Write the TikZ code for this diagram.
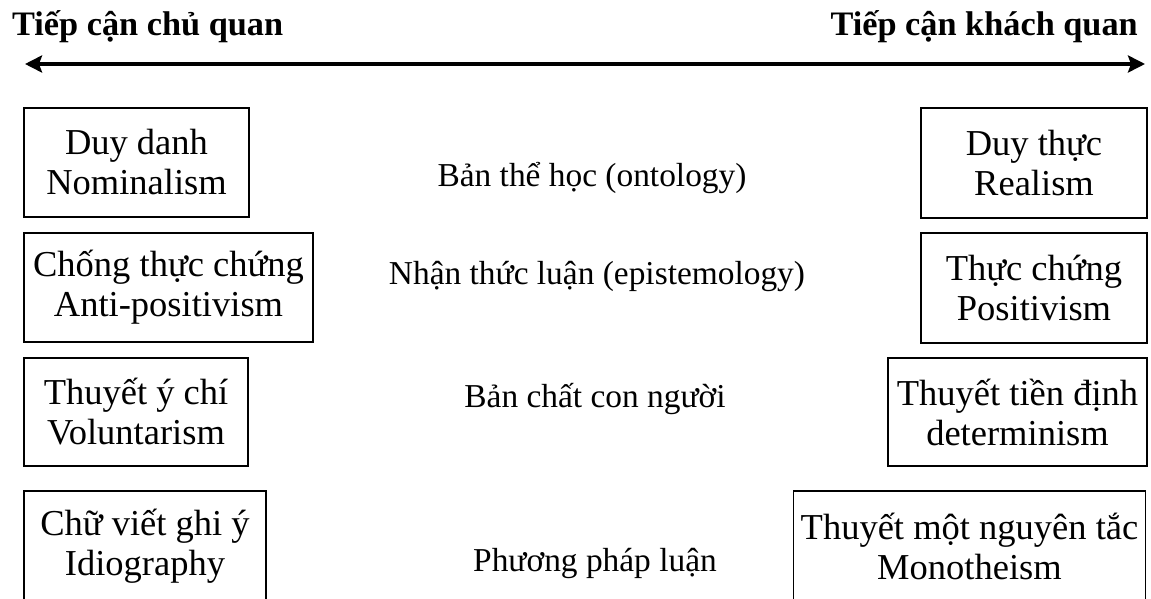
\documentclass[tikz,border=0pt]{standalone}
\usepackage{fontspec}
\setmainfont{Liberation Serif}
\usetikzlibrary{arrows.meta}
\tikzset{
  concept/.style={draw, line width=1.2pt, inner sep=0pt, align=center,
    font=\fontsize{36.5}{40}\selectfont},
  dimlabel/.style={inner sep=0pt, anchor=base, font=\fontsize{33.4}{38}\selectfont},
  approach/.style={inner sep=0pt, font=\fontsize{34.3}{38}\selectfont\bfseries},
  axis/.style={line width=4pt, {Stealth[length=17pt,width=17pt,inset=3pt]}-{Stealth[length=17pt,width=17pt,inset=3pt]}}
}
\begin{document}
\begin{tikzpicture}[x=1pt,y=-1pt]
\clip (0,0) rectangle (1151,599);
\fill[white] (0,0) rectangle (1151,599);
% titles
\node[approach, anchor=base west] (subj) at (12,36) {Tiếp cận chủ quan};
\node[approach, anchor=base east] (obj) at (1138,36) {Tiếp cận khách quan};
% axis
\coordinate (axL) at (25,64);
\coordinate (axR) at (1145,64);
\draw[axis] (axL) -- (axR);
% left boxes
\node[concept, minimum width=225pt, minimum height=109pt] (nom) at (136.5,162.5) {Duy danh\\Nominalism};
\node[concept, minimum width=289pt, minimum height=109pt] (anti) at (168.5,287.5) {Chống thực chứng\\Anti-positivism};
\node[concept, minimum width=224pt, minimum height=108pt] (vol) at (136,412) {Thuyết ý chí\\Voluntarism};
\node[concept, minimum width=242pt, minimum height=110pt] (idio) at (145,546) {Chữ viết ghi ý\\Idiography};
% right boxes
\node[concept, minimum width=226pt, minimum height=110pt] (real) at (1034,163) {Duy thực\\Realism};
\node[concept, minimum width=226pt, minimum height=110pt] (pos) at (1034,288) {Thực chứng\\Positivism};
\node[concept, minimum width=259pt, minimum height=108pt] (det) at (1017.5,412) {Thuyết tiền định\\determinism};
\node[concept, minimum width=352pt, minimum height=110pt] (mono) at (969.5,546) {Thuyết một nguyên tắc\\Monotheism};
% center labels
\node[dimlabel] (onto) at (592,186) {Bản thể học (ontology)};
\node[dimlabel] (epis) at (597,284) {Nhận thức luận (epistemology)};
\node[dimlabel] (human) at (595,407) {Bản chất con người};
\node[dimlabel] (meth) at (595,571) {Phương pháp luận};
\end{tikzpicture}
\end{document}
